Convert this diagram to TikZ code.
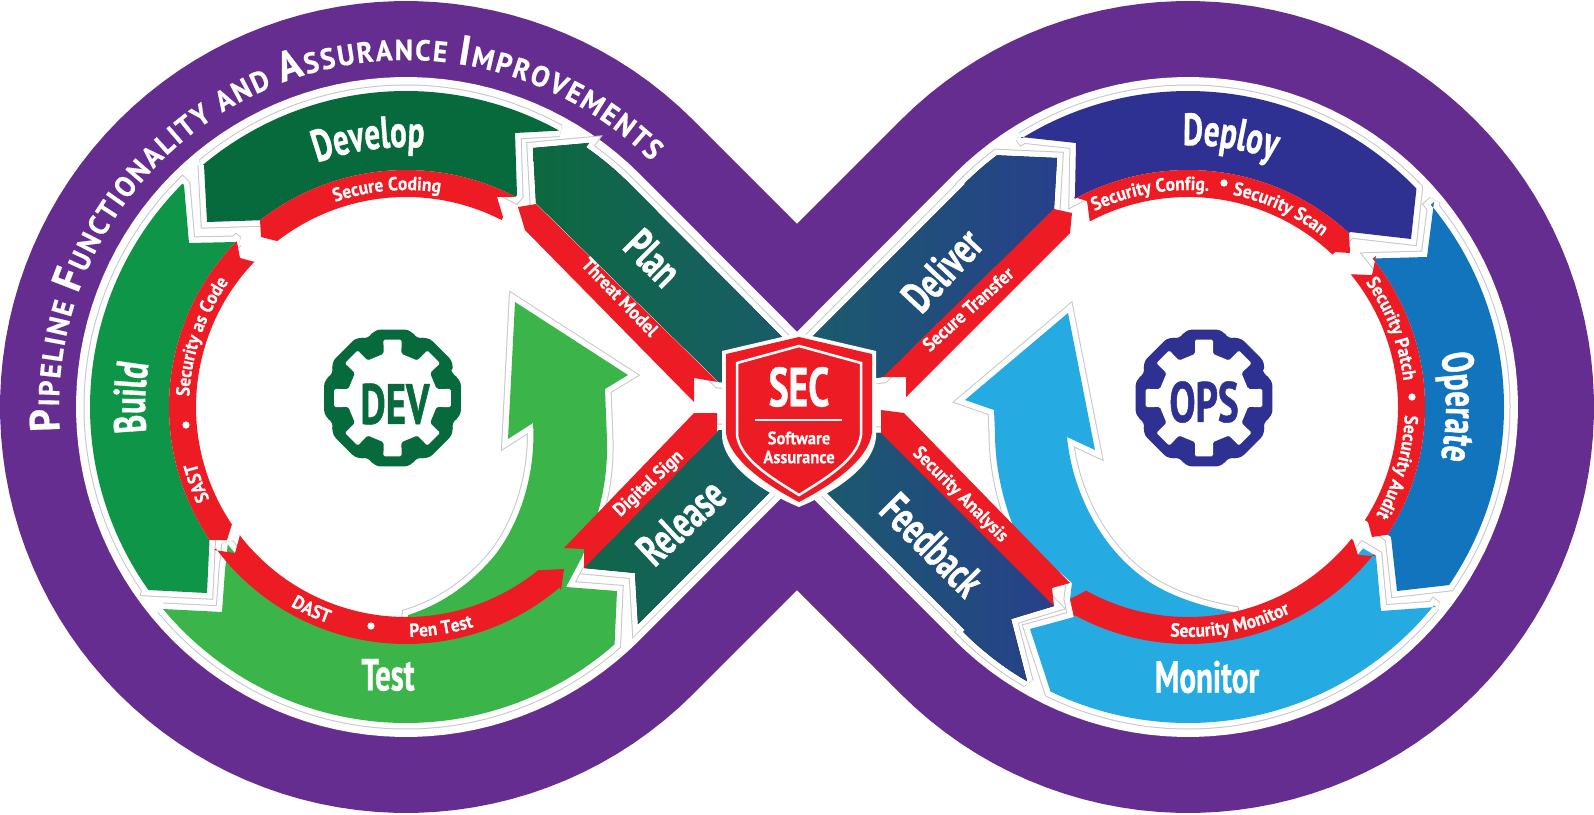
\documentclass[tikz,border=0pt]{standalone}
\usepackage{fontspec}
\usetikzlibrary{decorations.text,calc}
\newfontfamily\dinS[FakeStretch=0.92,FakeBold=0.3]{PT Sans}
\newfontfamily\dinB[FakeStretch=0.685,FakeBold=0.8]{PT Sans}
\newfontfamily\dinT[FakeStretch=0.95,FakeBold=0.5]{PT Sans}
\definecolor{pur}{HTML}{652D90}
\definecolor{cdev}{HTML}{076A3C}
\definecolor{cbuild}{HTML}{0E9547}
\definecolor{ctest}{HTML}{3BB54A}
\definecolor{cred}{HTML}{ED1C24}
\definecolor{cdep}{HTML}{2E3192}
\definecolor{cop}{HTML}{1174BC}
\definecolor{cmon}{HTML}{25AAE1}
\definecolor{tealA}{HTML}{0C693F}
\definecolor{tealB}{HTML}{1A5B6C}
\definecolor{blueB}{HTML}{27408B}
\newcommand{\ArcL}[3]{-- plot[domain=#1:#2,samples=100] ({406+#3*cos(\x)},{407+#3*sin(\x)})}
\newcommand{\ArcR}[3]{-- plot[domain=#1:#2,samples=100] ({1188+#3*cos(\x)},{407+#3*sin(\x)})}
\def\smf{\dinS\bfseries\fontsize{19}{19}\selectfont}
\def\capA{\dinB\bfseries\fontsize{45}{45}\selectfont}
\def\tbig{\dinT\bfseries\fontsize{42}{42}\selectfont}
\def\tsml{\dinT\bfseries\fontsize{29}{29}\selectfont}
\newcommand{\CurveTxt}[6]{\path[decorate,decoration={text along path,text color=white,text align=center,text={|#6|#5}}] plot[domain=#2:#3,samples=60] ({#1+#4*cos(\x)},{407+#4*sin(\x)});}
% gear drawn at centre (#1) in colour #2
\newcommand{\Gear}[2]{%
  \fill[#2,rounded corners=7pt] ($(#1)+(-22.5:63)$)
    \foreach \i in {0,45,...,315}{ -- ($(#1)+(\i-15.5:71)$) -- ($(#1)+(\i+15.5:71)$) -- ($(#1)+(\i+22.5:63)$)} -- cycle;
  \fill[white,rounded corners=1.5pt] ($(#1)+(-11.5:45)$)
    \foreach \i in {0,45,...,315}{ -- ($(#1)+(\i-11.5:45)$) -- ($(#1)+(\i-8.8:59)$) -- ($(#1)+(\i+8.8:59)$) -- ($(#1)+(\i+11.5:45)$)} -- cycle;
}
% colored segments
\def\pDevelop{(204,165) \ArcL{230}{299}{316} -- (515,133) -- (517,195) \ArcL{297.5}{232}{237} -- (207,222) -- cycle}
\def\pBuild{(184,185) -- (189,243) -- (237,242) \ArcL{224.3}{146}{237} -- (207,593) -- (148,590) \ArcL{144.7}{225}{316} -- cycle}
\def\pTest{(163,609) \ArcL{140.3}{48.7}{316} -- (617,591) -- (566,587) -- (582,557) .. controls (600,515) and (608,480) .. (607,440) -- (605,389) -- (628,375) -- (515,302) -- (508,439) -- (533,423) .. controls (536,470) and (522,520) .. (495,555) .. controls (470,585) and (440,605) .. (408,615) \ArcL{90}{142.4}{225} -- (225,570) -- (222,612) -- cycle}
\def\pPlan{(533,148) -- (589,143) \ArcL{-55.3}{-45}{316} -- (800,355) -- (800,390) -- (719,382) -- (536,203) -- cycle}
\def\pRelease{(584,568) -- (635,573) -- (638,624) -- (790,472) -- (790,430) -- (719,430) -- cycle}
\def\pDeploy{(1021,137) \ArcR{238.3}{316.3}{316} -- (1411,239) -- (1350,232) \ArcR{312.8}{241.5}{237} -- (1076,143) -- cycle}
\def\pOperate{(1434,202) \ArcR{320.2}{394.3}{316} -- (1397,591) -- (1391,537) \ArcR{392.6}{321.2}{237} -- (1427,257) -- cycle}
\def\pMonitor{(1436,607) \ArcR{38.9}{115.8}{316} -- (1030,629) -- (1074,617) -- (1070,599) -- (1072,583) -- (1016,533) .. controls (1002,500) and (995,465) .. (995,433) -- (994,410) -- (965,400) -- (1068,313) -- (1095,450) -- (1067,437) .. controls (1072,490) and (1100,550) .. (1151,583) .. controls (1175,598) and (1205,607) .. (1233,612) \ArcR{77.6}{38.9}{225} -- (1376,556) -- (1381,611) -- cycle}
\def\pDeliver{(810,339) -- (965,184) \ArcR{225}{232.8}{316} -- (1057,158) -- (1054,209) -- (883,377) -- (810,385) -- cycle}
\def\pFeedback{(810,476) -- (965,630) \ArcR{135}{120.4}{318} -- (1011,619) -- (1054,606) -- (881,433) -- (810,430) -- cycle}
\tikzset{
  halogray/.style={draw=black!22,line width=13pt,line join=miter,miter limit=2.5},
  halowhite/.style={draw=white,line width=11pt,line join=miter,miter limit=2.5},
  redband/.style={fill=cred},
  straightlbl/.style={text=white,inner sep=0pt},
}
\newcommand{\Halo}[1]{\path[halogray] #1; \path[halowhite] #1;}
\begin{document}
\begin{tikzpicture}[x=1pt,y=-1pt]
\useasboundingbox (0,0) rectangle (1594,814);
\fill[white] (0,0) rectangle (1594,814);
% purple figure eight
\fill[pur] (980,407) \ArcL{45}{315}{406} -- cycle;
\fill[pur] (614,407) \ArcR{135}{-135}{406} -- cycle;
% inner white figure eight
\fill[white] (872,407) \ArcL{45}{315}{330} -- cycle;
\fill[white] (722,407) \ArcR{135}{-135}{330} -- cycle;
% outlines
\Halo{\pPlan} \Halo{\pRelease} \Halo{\pDeliver} \Halo{\pFeedback}
\Halo{\pDevelop} \Halo{\pBuild} \Halo{\pTest}
\Halo{\pDeploy} \Halo{\pOperate} \Halo{\pMonitor}
% fills
\fill[left color=tealA,right color=tealB] \pPlan;
\fill[left color=tealA!80!tealB,right color=tealB] \pRelease;
\fill[left color=tealB,right color=blueB] \pDeliver;
\fill[left color=tealB,right color=blueB] \pFeedback;
\fill[cdev] \pDevelop;
\fill[cbuild] \pBuild;
\fill[ctest] \pTest;
\fill[cdep] \pDeploy;
\fill[cop] \pOperate;
\fill[cmon] \pMonitor;
% red bands
\fill[redband] (260,220) \ArcL{232}{297.5}{237} -- (497,197) -- (503,217) \ArcL{297.1}{232.2}{210} -- (261,237) -- cycle;
\fill[redband] (237,242) -- (240,258) -- (255,262) \ArcL{223.8}{146}{210} -- (227,540) -- (209,540) \ArcL{146}{224.3}{237} -- cycle;
\fill[redband] (214,550) -- (235,553) -- (240,535) \ArcL{142.4}{51}{210} -- (564,569) -- (561,590) \ArcL{49.7}{143.3}{237} -- cycle;
\fill[redband] (518,207) -- (536,204) -- (718,382) -- (694,378) -- (694,402) -- (525,230) -- cycle;
\fill[redband] (564,548) -- (584,549) -- (584,568) -- (717,432) -- (717,413) -- (694,413) -- cycle;
\fill[redband] (1074,197) \ArcR{241.5}{312.8}{237} -- (1350,253) -- (1335,252) \ArcR{313.5}{242.1}{210} -- (1087,201) -- cycle;
\fill[redband] (1376,256) \ArcR{321.2}{392.6}{237} -- (1372,537) -- (1368,522) \ArcR{392.6}{320.8}{210} -- (1372,275) -- cycle;
\fill[redband] (1376,556) -- (1358,555) -- (1353,540) \ArcR{38.9}{119}{210} -- (1070,599) -- (1074,617) \ArcR{118.5}{38.4}{237} -- cycle;
\fill[redband] (1054,209) -- (1072,213) -- (1070,233) -- (906,397) -- (906,377) -- (883,377) -- cycle;
\fill[redband] (881,410) -- (904,413) -- (1070,583) -- (1052,588) -- (1054,606) -- (881,433) -- cycle;
% dots
\fill[white] (186,425) circle (3.6pt);
\fill[white] (371,626) circle (3.6pt);
\fill[white] (1224,183) circle (3.6pt);
\fill[white] (1412,397) circle (3.6pt);
% purple ring title
\path[decorate,decoration={text along path,text color=white,text align={fit to path},
  text={|\tbig|P|\tsml|IPELINE |\tbig|F|\tsml|UNCTIONALITY AND |\tbig|A|\tsml|SSURANCE |\tbig|I|\tsml|MPROVEMENTS}}]
  plot[domain=176:315,samples=120] ({406+347*cos(\x)},{407+347*sin(\x)});
% curved labels on red
\CurveTxt{406}{235}{295}{217}{Secure Coding}{\smf}
\CurveTxt{406}{159}{239}{217}{Security as Code}{\smf}
\CurveTxt{406}{130}{190}{217}{SAST}{\smf}
\CurveTxt{406}{145}{85}{230}{DAST}{\smf}
\CurveTxt{406}{111}{51}{230}{Pen Test}{\smf}
\CurveTxt{1188}{225}{295}{217}{Security Config.}{\smf}
\CurveTxt{1188}{265}{325}{217}{Security Scan}{\smf}
\CurveTxt{1188}{304}{374}{217}{Security Patch}{\smf}
\CurveTxt{1188}{346}{406}{217}{Security Audit}{\smf}
\CurveTxt{1188}{119}{39}{230}{Security Monitor}{\smf}
% curved big labels
\CurveTxt{406}{227}{297}{260}{Develop}{\capA}
\CurveTxt{406}{147}{217}{261}{Build}{\capA}
\CurveTxt{1188}{244}{314}{262}{Deploy}{\capA}
\CurveTxt{1188}{320}{400}{258}{Operate}{\capA}
% straight labels
\node[straightlbl,rotate=-46,font=\smf] (tThreat) at (620,297) {Threat Model};
\node[straightlbl,rotate=43,font=\smf] (tSign) at (649,484) {Digital Sign};
\node[straightlbl,rotate=42,font=\smf] (tTransfer) at (968,309) {Secure Transfer};
\node[straightlbl,rotate=-45,font=\smf] (tAnalysis) at (960,495) {Security Analysis};
\node[straightlbl,rotate=-45,font=\capA] (tPlan) at (653,258) {Plan};
\node[straightlbl,rotate=43,font=\capA] (tRelease) at (681,522) {Release};
\node[straightlbl,rotate=47,font=\capA] (tDeliver) at (942,270) {Deliver};
\node[straightlbl,rotate=-45,font=\capA] (tFeedback) at (932,545) {Feedback};
\node[straightlbl,font=\capA] (tTest) at (388,675) {Test};
\node[straightlbl,font=\capA] (tMonitor) at (1207,677) {Monitor};
% gears
\Gear{392.5,398}{cdev}
\Gear{1204,398}{cdep}
\node[text=cdev,font=\dinB\bfseries\fontsize{57}{57}\selectfont,inner sep=0pt] (tDev) at (395,404) {DEV};
\node[text=cdep,font=\dinB\bfseries\fontsize{57}{57}\selectfont,inner sep=0pt] (tOps) at (1204,402) {OPS};
% shield
\fill[white] (799,333) -- (722,351) -- (722,437) .. controls (725,470) and (770,495) .. (799,507) .. controls (828,495) and (873,470) .. (876,437) -- (876,351) -- cycle;
\fill[cred] (799,337) -- (726,354) -- (726,433) .. controls (730,462) and (772,488) .. (799,502) .. controls (826,488) and (868,462) .. (872,433) -- (872,354) -- cycle;
\draw[white,line width=2.5pt] (799,346) -- (737,363) -- (737,435) .. controls (740,460) and (775,480) .. (799,495) .. controls (823,480) and (858,460) .. (861,435) -- (861,363) -- cycle;
\node[text=white,font=\dinB\bfseries\fontsize{55}{55}\selectfont,inner sep=0pt] (tSec) at (799,387) {SEC};
\draw[white,line width=1.6pt] (755,420) -- (842,420);
\node[text=white,font=\dinS\bfseries\fontsize{18}{18}\selectfont,inner sep=0pt] (tSw) at (799,438) {Software};
\node[text=white,font=\dinS\bfseries\fontsize{18}{18}\selectfont,inner sep=0pt] (tAs) at (799,457) {Assurance};
\end{tikzpicture}
\end{document}
